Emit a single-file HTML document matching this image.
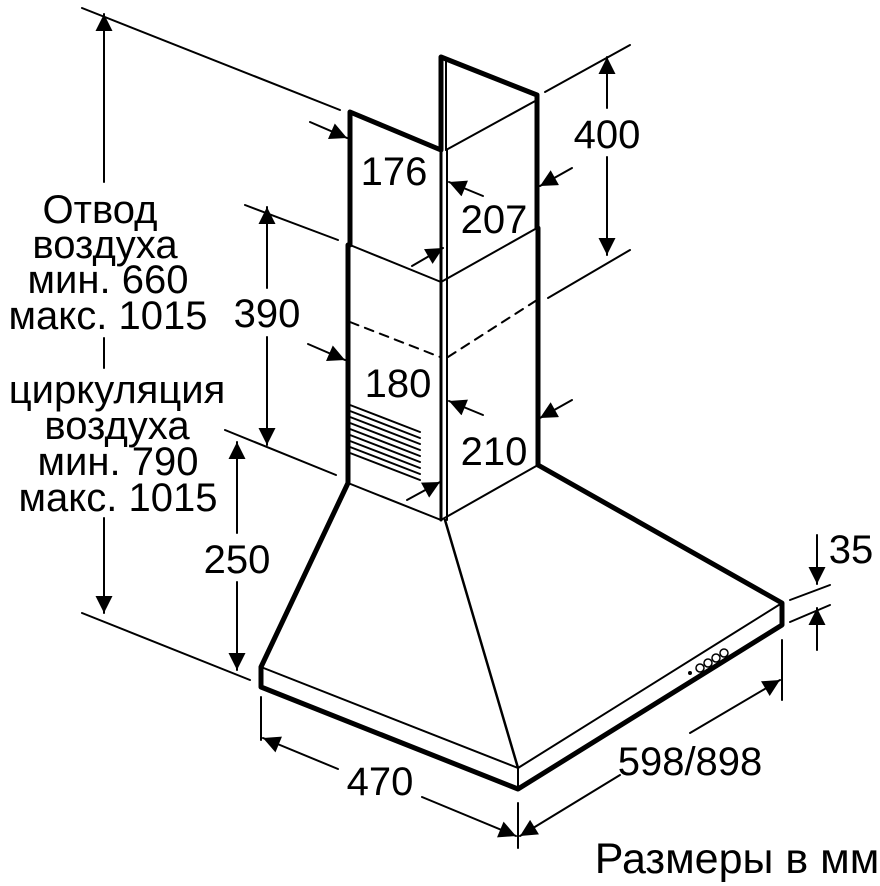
<!DOCTYPE html>
<html><head><meta charset="utf-8"><style>
html,body{margin:0;padding:0;background:#fff;}
svg{display:block}
text{font-family:"Liberation Sans",sans-serif;fill:#000;}
</style></head><body>
<svg width="880" height="886" viewBox="0 0 880 886" xmlns="http://www.w3.org/2000/svg">
<defs>
<marker id="b" viewBox="0 0 10 10" refX="10" refY="5" markerWidth="26" markerHeight="17" markerUnits="userSpaceOnUse" orient="auto"><path d="M0,0 L10,5 L0,10 z"/></marker>
</defs>
<g stroke="#000" fill="none" stroke-linecap="round" stroke-linejoin="round">
<path d="M350,245 L350,112 L441,150 L441,57 L537,95 L537,228" stroke-width="5"/>
<line x1="446" y1="60" x2="446" y2="150" stroke-width="2"/>
<path d="M446,150 L537,100" stroke-width="2"/>
<path d="M350,245 L441,282 L537,228" stroke-width="2"/>
<line x1="441" y1="150" x2="441" y2="520" stroke-width="3"/>
<line x1="447" y1="150" x2="447" y2="520" stroke-width="2"/>
<line x1="348" y1="245" x2="348" y2="483" stroke-width="5"/>
<line x1="538" y1="228" x2="538" y2="465" stroke-width="5"/>
<path d="M350,322 L440,357 M448,357 L537,300" stroke-width="2" stroke-dasharray="9,7"/>
<path d="M348,483 L441,520 L538,465" stroke-width="2"/>
<g stroke-width="2">
<line x1="350" y1="405" x2="420" y2="432"/><line x1="350" y1="411" x2="420" y2="438"/>
<line x1="350" y1="417" x2="420" y2="444"/><line x1="350" y1="423" x2="420" y2="450"/>
<line x1="350" y1="429" x2="420" y2="456"/><line x1="350" y1="435" x2="420" y2="462"/>
<line x1="350" y1="441" x2="420" y2="468"/><line x1="350" y1="447" x2="420" y2="474"/>
<line x1="350" y1="453" x2="420" y2="480"/>
</g>
<path d="M348,483 L261,667 L261,687 L518,789 L782,625 L782,603 L538,465" stroke-width="5"/>
<path d="M261,667 L518,768 L782,603" stroke-width="2"/>
<line x1="518" y1="768" x2="518" y2="789" stroke-width="2"/>
<line x1="445" y1="520" x2="518" y2="768" stroke-width="2.5"/>
<g stroke-width="1.5"><circle cx="700" cy="668" r="4"/><circle cx="708" cy="663" r="4"/><circle cx="716" cy="658" r="4"/><circle cx="724" cy="653" r="4"/></g>
<circle cx="690" cy="673" r="1.5" fill="#000"/>
<g stroke-width="2">
<line x1="82" y1="8" x2="340" y2="110"/>
<line x1="82" y1="613" x2="250" y2="680"/>
<line x1="245" y1="205" x2="338" y2="240"/>
<line x1="225" y1="430" x2="336" y2="475"/>
<line x1="545" y1="92" x2="630" y2="45"/>
<line x1="548" y1="298" x2="630" y2="250"/>
<line x1="790" y1="600" x2="830" y2="585"/>
<line x1="790" y1="622" x2="830" y2="605"/>
<line x1="261" y1="697" x2="261" y2="740"/>
<line x1="518" y1="803" x2="518" y2="848"/>
<line x1="782" y1="640" x2="782" y2="700"/>
</g>
<g stroke-width="2">
<line x1="104" y1="120" x2="104" y2="14" marker-end="url(#b)"/>
<line x1="104" y1="120" x2="104" y2="182"/>
<line x1="104" y1="338" x2="104" y2="368"/>
<line x1="104" y1="518" x2="104" y2="613" marker-end="url(#b)"/>
<line x1="267" y1="288" x2="267" y2="207" marker-end="url(#b)"/>
<line x1="267" y1="337" x2="267" y2="445" marker-end="url(#b)"/>
<line x1="237" y1="533" x2="237" y2="442" marker-end="url(#b)"/>
<line x1="237" y1="582" x2="237" y2="670" marker-end="url(#b)"/>
<line x1="607" y1="108" x2="607" y2="57" marker-end="url(#b)"/>
<line x1="607" y1="157" x2="607" y2="255" marker-end="url(#b)"/>
<line x1="817" y1="535" x2="817" y2="584" marker-end="url(#b)"/>
<line x1="817" y1="650" x2="817" y2="608" marker-end="url(#b)"/>
<line x1="338" y1="769" x2="263" y2="738" marker-end="url(#b)"/>
<line x1="422" y1="797" x2="516" y2="836" marker-end="url(#b)"/>
<line x1="620" y1="775" x2="520" y2="836" marker-end="url(#b)"/>
<line x1="690" y1="733" x2="780" y2="680" marker-end="url(#b)"/>
<line x1="310" y1="122" x2="347" y2="138" marker-end="url(#b)"/>
<line x1="483" y1="196" x2="449" y2="182" marker-end="url(#b)"/>
<line x1="572" y1="168" x2="540" y2="186" marker-end="url(#b)"/>
<line x1="412" y1="266" x2="443" y2="248" marker-end="url(#b)"/>
<line x1="308" y1="344" x2="345" y2="360" marker-end="url(#b)"/>
<line x1="483" y1="415" x2="449" y2="401" marker-end="url(#b)"/>
<line x1="572" y1="400" x2="540" y2="418" marker-end="url(#b)"/>
<line x1="407" y1="500" x2="440" y2="482" marker-end="url(#b)"/>
</g>
</g>
<g font-size="40" text-anchor="middle">
<text x="394" y="185">176</text>
<text x="494" y="233">207</text>
<text x="267" y="327">390</text>
<text x="398" y="397">180</text>
<text x="494" y="465">210</text>
<text x="237" y="573">250</text>
<text x="607" y="148">400</text>
<text x="851" y="563">35</text>
<text x="380" y="795">470</text>
<text x="690" y="775">598/898</text>
<text x="737" y="873" font-size="43">Размеры в мм</text>
</g>
<g font-size="40" text-anchor="middle">
<text x="100" y="223">Отвод</text>
<text x="105" y="258">воздуха</text>
<text x="108" y="293">мин. 660</text>
<text x="108" y="329">макс. 1015</text>
<text x="117" y="403">циркуляция</text>
<text x="117" y="439">воздуха</text>
<text x="118" y="475">мин. 790</text>
<text x="118" y="511">макс. 1015</text>
</g>
</svg>
</body></html>
